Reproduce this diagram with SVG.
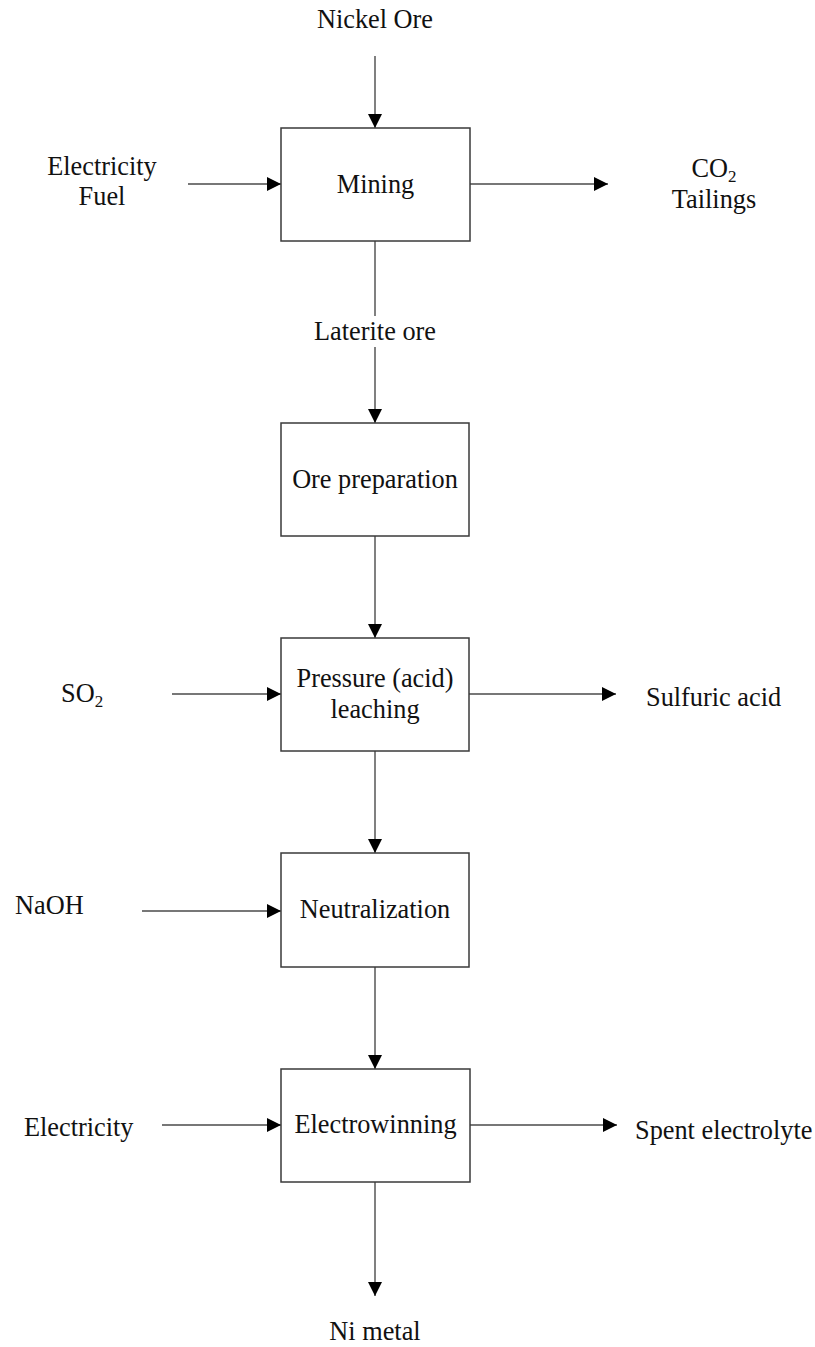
<svg xmlns="http://www.w3.org/2000/svg" width="815" height="1347" viewBox="0 0 815 1347">
  <defs>
    <marker id="arrow" markerUnits="userSpaceOnUse" markerWidth="14" markerHeight="14" refX="14" refY="7" orient="auto">
      <path d="M0,0 L14,7 L0,14 Z" fill="#000"/>
    </marker>
    <style>
      text { font-family: "Liberation Serif", "Times New Roman", serif; font-size: 26.3px; fill: #111; }
      .c { text-anchor: middle; }
      .sub { font-size: 17px; }
      .box { fill: #fff; stroke: #3a3a3a; stroke-width: 1.5; }
      .flow { stroke: #4a4a4a; stroke-width: 1.4; fill: none; }
    </style>
  </defs>
  <rect width="815" height="1347" fill="#fff"/>

  <!-- connectors -->
  <g id="connectors">
    <line class="flow" x1="375" y1="56" x2="375" y2="128" marker-end="url(#arrow)"/>
    <line class="flow" x1="188" y1="184" x2="281" y2="184" marker-end="url(#arrow)"/>
    <line class="flow" x1="470" y1="184" x2="608" y2="184" marker-end="url(#arrow)"/>
    <line class="flow" x1="375" y1="241" x2="375" y2="316"/>
    <line class="flow" x1="375" y1="347" x2="375" y2="423" marker-end="url(#arrow)"/>
    <line class="flow" x1="375" y1="536" x2="375" y2="638" marker-end="url(#arrow)"/>
    <line class="flow" x1="172" y1="694" x2="281" y2="694" marker-end="url(#arrow)"/>
    <line class="flow" x1="469" y1="694" x2="616" y2="694" marker-end="url(#arrow)"/>
    <line class="flow" x1="375" y1="751" x2="375" y2="853" marker-end="url(#arrow)"/>
    <line class="flow" x1="142" y1="911" x2="281" y2="911" marker-end="url(#arrow)"/>
    <line class="flow" x1="375" y1="967" x2="375" y2="1069" marker-end="url(#arrow)"/>
    <line class="flow" x1="162" y1="1125" x2="281" y2="1125" marker-end="url(#arrow)"/>
    <line class="flow" x1="470" y1="1125" x2="617" y2="1125" marker-end="url(#arrow)"/>
    <line class="flow" x1="375" y1="1182" x2="375" y2="1296" marker-end="url(#arrow)"/>
  </g>

  <!-- process steps -->
  <g id="mining">
    <rect class="box" x="281" y="128" width="189" height="113"/>
    <text class="c" x="375.5" y="193">Mining</text>
  </g>
  <g id="ore-preparation">
    <rect class="box" x="281" y="423" width="188" height="113"/>
    <text class="c" x="375" y="488">Ore preparation</text>
  </g>
  <g id="pressure-leaching">
    <rect class="box" x="281" y="638" width="188" height="113"/>
    <text class="c" x="375" y="687">Pressure (acid)</text>
    <text class="c" x="375" y="718">leaching</text>
  </g>
  <g id="neutralization">
    <rect class="box" x="281" y="853" width="188" height="114"/>
    <text class="c" x="375" y="918">Neutralization</text>
  </g>
  <g id="electrowinning">
    <rect class="box" x="281" y="1069" width="189" height="113"/>
    <text class="c" x="375.5" y="1133">Electrowinning</text>
  </g>

  <!-- inputs and outputs -->
  <g id="nickel-ore"><text class="c" x="375" y="28">Nickel Ore</text></g>
  <g id="mining-inputs">
    <text class="c" x="102" y="175">Electricity</text>
    <text class="c" x="102" y="205">Fuel</text>
  </g>
  <g id="mining-outputs">
    <text class="c" x="714" y="177">CO<tspan class="sub" dy="5">2</tspan></text>
    <text class="c" x="714" y="208">Tailings</text>
  </g>
  <g id="laterite-ore"><text class="c" x="375" y="340">Laterite ore</text></g>
  <g id="so2"><text x="61" y="702">SO<tspan class="sub" dy="5">2</tspan></text></g>
  <g id="sulfuric-acid"><text x="646" y="706">Sulfuric acid</text></g>
  <g id="naoh"><text x="15" y="914">NaOH</text></g>
  <g id="electricity"><text x="24" y="1136">Electricity</text></g>
  <g id="spent-electrolyte"><text x="635" y="1139">Spent electrolyte</text></g>
  <g id="ni-metal"><text class="c" x="375" y="1340">Ni metal</text></g>
</svg>
